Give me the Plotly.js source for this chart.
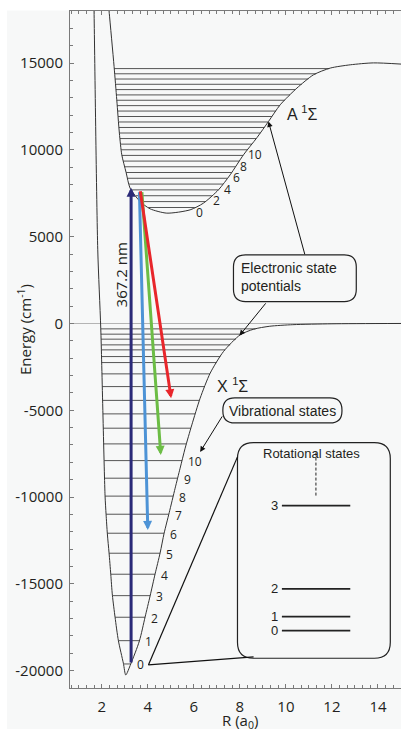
<!DOCTYPE html>
<html><head><meta charset="utf-8">
<script src="https://cdn.plot.ly/plotly-3.0.1.min.js"></script>
<style>html,body{margin:0;padding:0;background:#fff;}#chart{width:401px;height:729px;}</style>
</head><body><div id="chart"></div>
<script>
// ---------- data (R in a0, E in cm^-1) ----------
var xStateR = [1.642, 1.665, 1.826, 1.957, 2.143, 2.187, 2.243, 2.317, 2.391, 2.461, 2.578, 2.722, 2.939, 3.043, 3.26, 3.635, 3.883, 4.10, 4.317, 4.535, 4.709, 4.93, 5.187, 5.404, 5.622, 5.913, 6.274, 6.709, 7.287, 8.013, 8.6, 9.3, 10.3, 12.0, 15.0];
var xStateE = [20000, 18000, 4241, -311, -9934, -10989, -12124, -13219, -14446, -15656, -16924, -18272, -19575, -20250, -19615, -18290, -16907, -15697, -14429, -13219, -12084, -10900, -9491, -8338, -7186, -5843, -4305, -2864, -1619, -656, -330, -160, -70, -20, 0];
var aStateR = [2.18, 2.317, 2.535, 2.652, 2.765, 2.87, 3.057, 3.23, 3.665, 4.10, 4.826, 5.839, 6.417, 7.07, 7.578, 8.157, 8.739, 9.243, 9.752, 10.478, 11.2, 11.926, 12.796, 13.8, 15.0];
var aStateE = [20000, 18000, 14803, 12885, 10966, 9715, 8700, 7797, 7024, 6604, 6356, 6546, 6932, 7698, 8563, 9715, 10700, 11634, 12596, 13559, 14325, 14711, 14900, 15010, 14942];

var xLevelsE = [-19615, -18273, -16924, -15680, -14446, -13236, -12084, -10989, -9946, -8914, -7900, -6938, -6033, -5209, -4431, -3636, -2904, -2253, -1907, -1521, -1233, -905, -617, -311];
var xLevelLabels = ['0','1','2','3','4','5','6','7','8','9','10'];
var aLevelsE = [6680, 7020, 7358, 7695, 8030, 8364, 8696, 9026, 9354, 9681, 10006, 10330, 10652, 10972, 11290, 11607, 11922, 12236, 12548, 12858, 13166, 13473, 13778, 14081, 14383, 14683];
var aLabelIdx = [0, 2, 4, 6, 8, 10];

// transitions: navy (367.2 nm excitation), blue, green, red (emission)
var transTailR = [3.274, 3.635, 3.739, 3.665];
var transTailE = [-19615, 7641, 7658, 7700];
var transTipR  = [3.274, 4.0, 4.565, 5.013];
var transTipE  = [7814, -11894, -7572, -4305];
var transColors = ['#2b2a78', '#4d93d6', '#6cbd45', '#e8262b'];

// rotational inset
var rotJ = ['0', '1', '2', '3'];
var rotE = [-17696, -16890, -15293, -10493];

var xTickVals = [2, 4, 6, 8, 10, 12, 14];
var xTickText = ['2', '4', '6', '8', '10', '12', '14'];
var yTickVals = [-20000, -15000, -10000, -5000, 0, 5000, 10000, 15000];
var yTickText = ['-20000', '-15000', '-10000', '-5000', '0', '5000', '10000', '15000'];

// ---------- layout geometry ----------
var W = 401, H = 729, ML = 70, MR = 0, MT = 11, MB = 41;
var xRange = [0.62, 15.0], yRange = [-21000, 18000];
var pxPerR = (W - ML - MR) / (xRange[1] - xRange[0]);
var pxPerE = (H - MT - MB) / (yRange[1] - yRange[0]);
var BG = '#f7f8f8', INK = '#231f20';

function crossings(R, E, e) {
  var pts = [];
  for (var i = 0; i < R.length - 1; i++) {
    var e0 = E[i], e1 = E[i + 1];
    if ((e0 - e) * (e1 - e) <= 0 && e0 !== e1) {
      var t = (e - e0) / (e1 - e0);
      pts.push(R[i] + t * (R[i + 1] - R[i]));
    }
  }
  return [pts[0], pts[pts.length - 1]];
}
function levelTrace(R, E, levels) {
  var xs = [], ys = [], ends = [];
  levels.forEach(function (e) {
    var c = crossings(R, E, e);
    xs.push(c[0], c[1], null); ys.push(e, e, null); ends.push(c[1]);
  });
  return {xs: xs, ys: ys, ends: ends};
}
function roundBox(x0, x1, yB, yT, rpx) {
  var rx = rpx / pxPerR, ry = rpx / pxPerE;
  function p(a, b) { return a.toFixed(4) + ',' + b.toFixed(2); }
  return 'M' + p(x0 + rx, yT) + 'L' + p(x1 - rx, yT) + 'Q' + p(x1, yT) + ' ' + p(x1, yT - ry) +
    'L' + p(x1, yB + ry) + 'Q' + p(x1, yB) + ' ' + p(x1 - rx, yB) +
    'L' + p(x0 + rx, yB) + 'Q' + p(x0, yB) + ' ' + p(x0, yB + ry) +
    'L' + p(x0, yT - ry) + 'Q' + p(x0, yT) + ' ' + p(x0 + rx, yT) + 'Z';
}

var xl = levelTrace(xStateR, xStateE, xLevelsE);
var al = levelTrace(aStateR, aStateE, aLevelsE);

var traces = [
  {x: xl.xs, y: xl.ys, mode: 'lines', line: {color: '#555', width: 1}, hoverinfo: 'skip', connectgaps: false},
  {x: al.xs, y: al.ys, mode: 'lines', line: {color: '#555', width: 1}, hoverinfo: 'skip', connectgaps: false},
  {x: xStateR, y: xStateE, mode: 'lines', line: {color: '#333', width: 1, shape: 'spline', smoothing: 0.7}},
  {x: aStateR, y: aStateE, mode: 'lines', line: {color: '#333', width: 1, shape: 'spline', smoothing: 0.7}}
];

var ann = [];
// vibrational labels
xLevelLabels.forEach(function (t, i) {
  ann.push({x: xl.ends[i], y: xLevelsE[i], xref: 'x', yref: 'y', text: t, showarrow: false,
    xanchor: 'left', yanchor: 'middle', xshift: 4, yshift: -1,
    font: {family: 'Open Sans', size: 12, color: INK}});
});
aLabelIdx.forEach(function (v) {
  ann.push({x: al.ends[v], y: aLevelsE[v], xref: 'x', yref: 'y', text: String(v), showarrow: false,
    xanchor: 'left', yanchor: 'middle', xshift: -1, yshift: -5,
    font: {family: 'Open Sans', size: 12, color: INK}});
});
// transition arrows
transTipR.forEach(function (r, i) {
  ann.push({x: r, y: transTipE[i], ax: transTailR[i], ay: transTailE[i], xref: 'x', yref: 'y', axref: 'x', ayref: 'y',
    text: '', showarrow: true, arrowhead: 2, arrowsize: 0.6, arrowwidth: 3, arrowcolor: transColors[i], standoff: 0});
});
// callout arrows
function thinArrow(x, y, ax, ay) {
  ann.push({x: x, y: y, ax: ax, ay: ay, xref: 'x', yref: 'y', axref: 'x', ayref: 'y', text: '', showarrow: true,
    arrowhead: 2, arrowsize: 1.1, arrowwidth: 1, arrowcolor: '#111', standoff: 0});
}
thinArrow(9.243, 11634, 10.839, 3895);
thinArrow(7.983, -700, 9.174, 1245);
thinArrow(6.274, -7399, 7.274, -5267);

function txt(x, y, t, o) {
  var a = {x: x, y: y, xref: 'x', yref: 'y', text: t, showarrow: false, xanchor: 'center', yanchor: 'middle',
    font: {family: 'Liberation Sans', size: 14, color: INK}};
  for (var k in o) a[k] = o[k];
  ann.push(a);
}
txt(7.97, 2703, 'Electronic state<br>potentials', {xanchor: 'left', align: 'left'});
txt(9.839, -5019, 'Vibrational states', {});
txt(11.13, -7514, 'Rotational states', {font: {family: 'Liberation Sans', size: 13, color: INK}});
txt(9.95, 12136, 'A <sup>1</sup>Σ', {xanchor: 'left', font: {family: 'Liberation Sans', size: 16, color: INK}});
txt(6.94, -3538, 'X <sup>1</sup>Σ', {xanchor: 'left', font: {family: 'Liberation Sans', size: 16, color: INK}});
txt(2.817, 2800, '367.2 nm', {textangle: -90, font: {family: 'Open Sans', size: 15, color: INK}});
rotJ.forEach(function (j, i) {
  txt(9.826, rotE[i], j, {xanchor: 'right', xshift: -2, font: {family: 'Liberation Sans', size: 13, color: INK}});
});
// axis titles
ann.push({xref: 'paper', yref: 'paper', x: (24 - ML) / (W - ML - MR), y: (H - MB - 330) / (H - MT - MB),
  text: 'Energy (cm<sup>-1</sup>)', textangle: -90, showarrow: false, xanchor: 'center', yanchor: 'middle',
  font: {family: 'Open Sans', size: 15, color: INK}});
ann.push({xref: 'paper', yref: 'paper', x: (240 - ML) / (W - ML - MR), y: (H - MB - 721) / (H - MT - MB),
  text: 'R (a<sub>0</sub>)', showarrow: false, xanchor: 'center', yanchor: 'middle',
  font: {family: 'Open Sans', size: 15, color: INK}});

var shapes = [];
// white margins outside the panel
shapes.push({type: 'rect', xref: 'paper', yref: 'paper', layer: 'below', line: {width: 0}, fillcolor: '#ffffff',
  x0: -ML / (W - ML - MR) - 0.01, x1: (7 - ML) / (W - ML - MR), y0: -MB / (H - MT - MB) - 0.01, y1: 1 + MT / (H - MT - MB) + 0.01});
shapes.push({type: 'rect', xref: 'paper', yref: 'paper', layer: 'below', line: {width: 0}, fillcolor: '#ffffff',
  x0: -ML / (W - ML - MR) - 0.01, x1: 1.01, y0: 1 + 0.5 / (H - MT - MB), y1: 1 + MT / (H - MT - MB) + 0.01});
// callout boxes
function boxShape(path) {
  shapes.push({type: 'path', xref: 'x', yref: 'y', path: path, layer: 'above', line: {color: '#222', width: 1.2}, fillcolor: BG});
}
boxShape(roundBox(7.722, 13.057, 1262, 3953, 12));
boxShape(roundBox(7.261, 12.435, -5728, -4287, 12));
boxShape(roundBox(7.896, 14.535, -19287, -6863, 16));
// zoom lines from v=0 to inset
shapes.push({type: 'line', xref: 'x', yref: 'y', x0: 4.026, y0: -19673, x1: 7.896, y1: -7685, line: {color: '#111', width: 1.2}, layer: 'above'});
shapes.push({type: 'line', xref: 'x', yref: 'y', x0: 4.026, y0: -19673, x1: 8.596, y1: -19211, line: {color: '#111', width: 1.2}, layer: 'above'});
// dashed continuation
shapes.push({type: 'line', xref: 'x', yref: 'y', x0: 11.304, y0: -7438, x1: 11.304, y1: -9981, line: {color: '#222', width: 1, dash: '3px,2px'}, layer: 'above'});
// rotational levels
rotE.forEach(function (e) {
  shapes.push({type: 'line', xref: 'x', yref: 'y', x0: 9.826, x1: 12.796, y0: e, y1: e, line: {color: '#222', width: 1.8}, layer: 'above'});
});

var tickFont = {family: 'Open Sans', size: 15, color: INK};
var layout = {
  width: W, height: H, margin: {l: ML, r: MR, t: MT, b: MB, pad: 0},
  paper_bgcolor: BG, plot_bgcolor: BG, showlegend: false,
  xaxis: {range: xRange, showgrid: false, zeroline: false, showline: true, linecolor: '#7a7a7a', linewidth: 1,
    mirror: 'ticks', ticks: 'inside', ticklen: 4, tickcolor: '#7a7a7a', tickvals: xTickVals, ticktext: xTickText,
    tickfont: tickFont, ticklabelstandoff: 5,
    minor: {ticks: 'inside', ticklen: 3, dtick: 1 / 3, tickcolor: '#7a7a7a', showgrid: false}},
  yaxis: {range: yRange, showgrid: false, zeroline: true, zerolinecolor: '#b4b4b4', zerolinewidth: 1,
    showline: true, linecolor: '#7a7a7a', linewidth: 1, ticks: 'inside', ticklen: 4, tickcolor: '#7a7a7a',
    tickvals: yTickVals, ticktext: yTickText, tickfont: tickFont, ticklabelstandoff: 3,
    minor: {ticks: 'inside', ticklen: 3, dtick: 1000, tickcolor: '#7a7a7a', showgrid: false}},
  annotations: ann, shapes: shapes
};
Plotly.newPlot('chart', traces, layout, {staticPlot: true, displayModeBar: false});
</script></body></html>
